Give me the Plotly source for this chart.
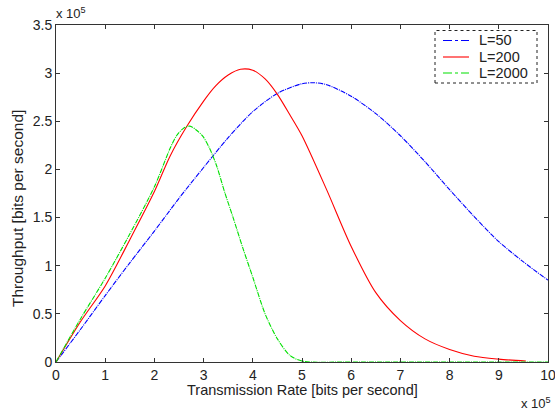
import plotly.graph_objects as go

# Transmission rate (x 10^5 bits/s) and throughput (x 10^5 bits/s)
x_l50 = [0, 0.5, 1, 1.5, 2, 2.5, 3, 3.5, 4, 4.5, 5, 5.25, 5.5, 6, 6.5, 7, 7.5, 8, 8.5, 9, 9.5, 10]
y_l50 = [0, 0.34, 0.69, 1.03, 1.36, 1.70, 2.02, 2.33, 2.60, 2.79, 2.89, 2.90, 2.88, 2.76, 2.58, 2.35, 2.08, 1.79, 1.51, 1.25, 1.04, 0.85]

x_l200 = [0, 0.5, 1, 1.5, 2, 2.32, 2.65, 3, 3.25, 3.5, 3.75, 4, 4.25, 4.5, 4.75, 5, 5.5, 6, 6.5, 7, 7.5, 8, 8.5, 9, 9.55]
y_l200 = [0, 0.42, 0.79, 1.27, 1.77, 2.14, 2.44, 2.71, 2.87, 2.98, 3.04, 3.03, 2.94, 2.78, 2.57, 2.35, 1.79, 1.20, 0.72, 0.43, 0.24, 0.13, 0.06, 0.03, 0.01]

x_l2000 = [0, 0.5, 1, 1.5, 2, 2.32, 2.45, 2.6, 2.72, 2.85, 2.99, 3.13, 3.27, 3.43, 3.6, 3.8, 4, 4.25, 4.5, 4.75, 5, 6, 7, 8, 9, 10]
y_l2000 = [0, 0.45, 0.87, 1.33, 1.82, 2.22, 2.35, 2.43, 2.45, 2.41, 2.34, 2.21, 2.03, 1.76, 1.50, 1.18, 0.88, 0.50, 0.24, 0.07, 0.01, 0, 0, 0, 0, 0]

series_names = ["L=50", "L=200", "L=2000"]
series_colors = ["#0000ff", "#ff0000", "#00e000"]
series_dash = ["5px,1px,1px,1px", "solid", "5px,1px,1px,1px"]
legend_dash = ["dashdot", "solid", "dashdot"]

x_ticks = list(range(0, 11))
y_ticks = [0, 0.5, 1, 1.5, 2, 2.5, 3, 3.5]
y_tick_text = ["0", "0.5", "1", "1.5", "2", "2.5", "3", "3.5"]

font_family = "Liberation Sans, Arial, sans-serif"
text_color = "#222222"

# plot area in pixels (for placing paper-referenced decorations)
L, R, T, B = 56, 548, 25, 362
W, H = R - L, B - T
def px(xp):
    return (xp - L) / W
def py(yp):
    return (B - yp) / H

fig = go.Figure()
for xs, ys, nm, col, ds in zip([x_l50, x_l200, x_l2000], [y_l50, y_l200, y_l2000],
                               series_names, series_colors, series_dash):
    fig.add_trace(go.Scatter(x=xs, y=ys, mode="lines", name=nm, showlegend=False,
                             line=dict(color=col, width=1.1, dash=ds, shape="spline", smoothing=0.8)))

axis_common = dict(
    showline=True, linecolor="#333333", linewidth=1, mirror="ticks",
    ticks="inside", ticklen=4, tickcolor="#333333",
    showgrid=False, zeroline=False, automargin=False, ticklabeloverflow="allow",
    tickfont=dict(family=font_family, size=14, color=text_color),
)
fig.update_xaxes(range=[0, 10], tickvals=x_ticks, **axis_common)
fig.update_yaxes(range=[0, 3.5], tickvals=y_ticks, ticktext=y_tick_text, **axis_common)

# axis titles
fig.add_annotation(x=px(302), y=py(390), xref="paper", yref="paper", xanchor="center", yanchor="middle",
                   text="Transmission Rate [bits per second]", showarrow=False,
                   font=dict(family=font_family, size=14.5, color=text_color))
fig.add_annotation(x=px(17), y=py(209), xref="paper", yref="paper", xanchor="center", yanchor="middle",
                   text="Throughput [bits per second]", showarrow=False, textangle=-90,
                   font=dict(family=font_family, size=15.5, color=text_color))

# exponent labels
fig.add_annotation(x=px(54), y=py(13), xref="paper", yref="paper", xanchor="left", yanchor="middle",
                   text="x 10<sup>5</sup>", showarrow=False,
                   font=dict(family=font_family, size=13, color=text_color))
fig.add_annotation(x=px(553), y=py(403), xref="paper", yref="paper", xanchor="right", yanchor="middle",
                   text="x 10<sup>5</sup>", showarrow=False,
                   font=dict(family=font_family, size=13, color=text_color))

# legend box (dotted border) drawn manually
fig.add_shape(type="rect", xref="paper", yref="paper", x0=px(435), x1=px(537), y0=py(83), y1=py(30.5),
              line=dict(color=text_color, width=1, dash="dot"), fillcolor="white", layer="above")
legend_rows = [40.5, 57, 73]
for nm, col, ds, ry in zip(series_names, series_colors, legend_dash, legend_rows):
    fig.add_shape(type="line", xref="paper", yref="paper", x0=px(443), x1=px(469), y0=py(ry), y1=py(ry),
                  line=dict(color=col, width=1.1, dash=ds), layer="above")
    fig.add_annotation(x=px(477), y=py(ry), xref="paper", yref="paper", xanchor="left", yanchor="middle",
                       text=nm, showarrow=False,
                       font=dict(family=font_family, size=14.5, color=text_color))

fig.update_layout(
    width=555, height=412,
    margin=dict(l=L, r=555 - R, t=T, b=412 - B, autoexpand=False),
    paper_bgcolor="white", plot_bgcolor="white",
    showlegend=False,
    font=dict(family=font_family),
)

fig.write_html("out.html")
